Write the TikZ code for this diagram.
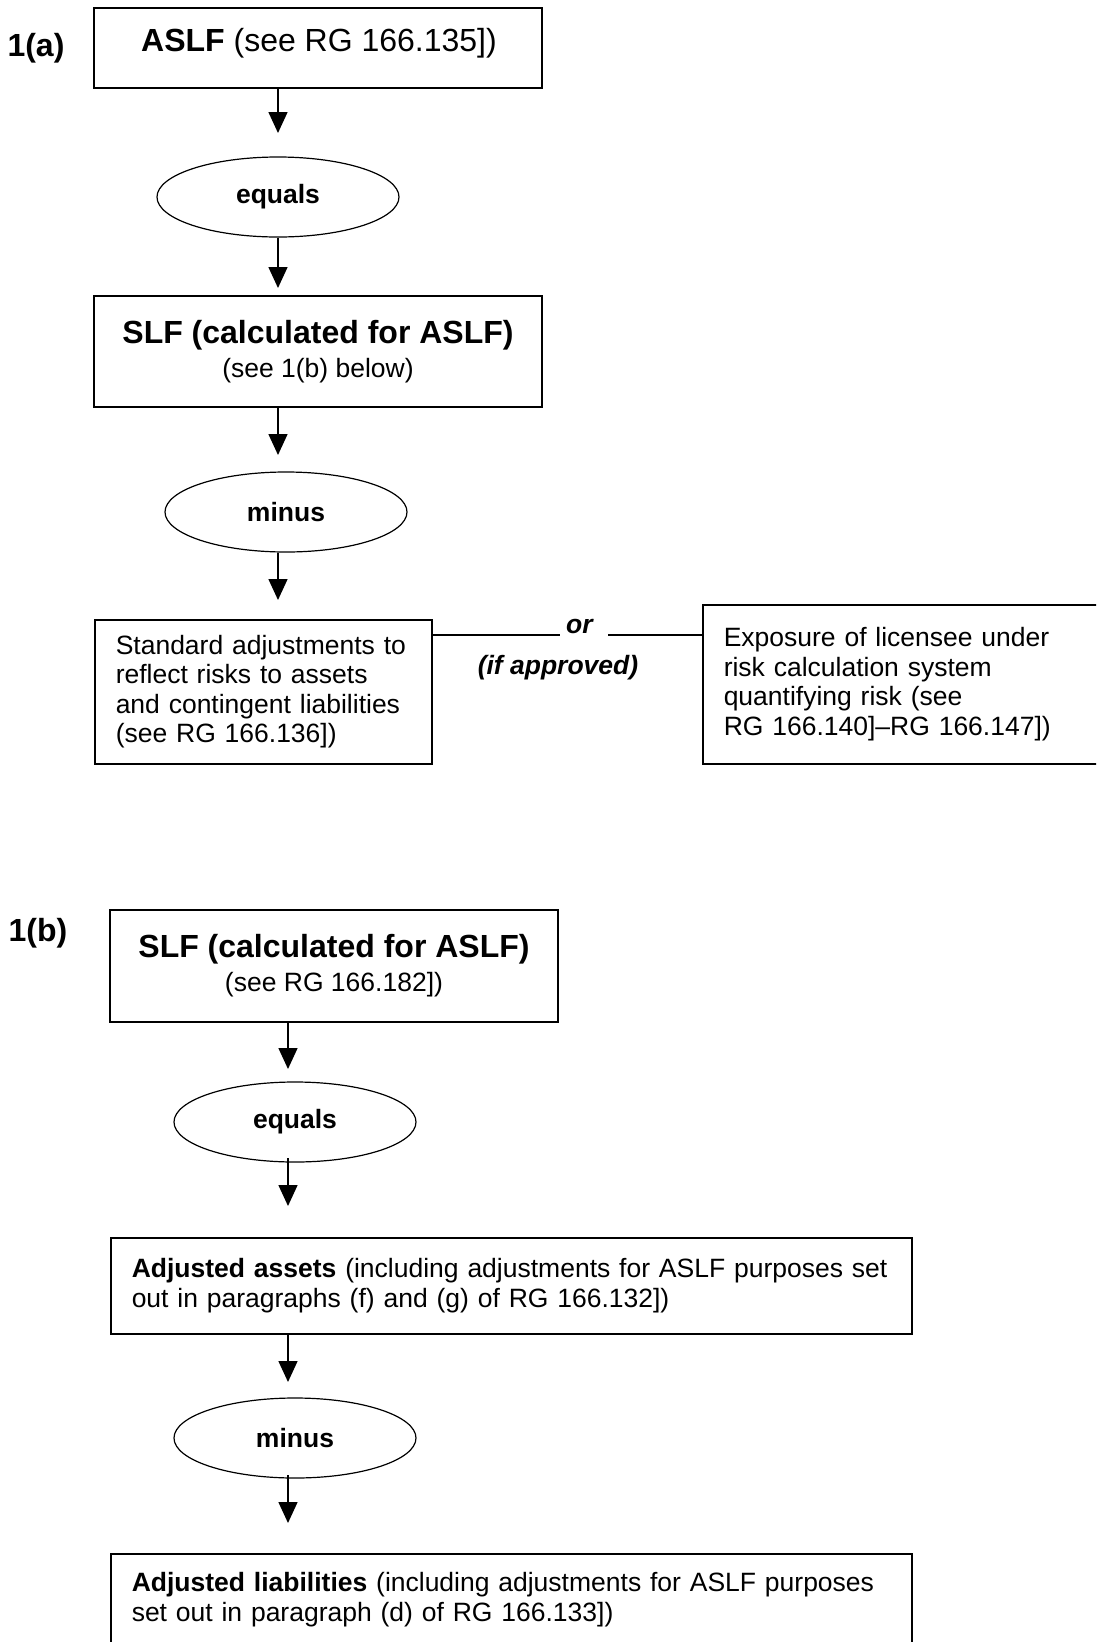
\documentclass[tikz,border=0pt]{standalone}
\usepackage{fontspec}
\setmainfont{Liberation Sans}
\usetikzlibrary{shapes.geometric,arrows.meta}
\tikzset{
  boxnode/.style={draw, line width=1.5pt, inner ysep=0pt},
  ovalnode/.style={draw, ellipse, line width=1.2pt, minimum width=242pt, minimum height=80pt, inner sep=0pt, font=\fontsize{26.5}{30}\selectfont\bfseries},
  arr/.style={line width=1.5pt, -{Triangle[width=19pt,length=21pt]}},
  bodyfont/.style={font=\fontsize{26.5}{29.5}\selectfont},
  headfont/.style={font=\fontsize{32}{36}\selectfont},
  lbl/.style={font=\fontsize{32}{36}\selectfont\bfseries, inner sep=0pt},
  plainline/.style={line width=1.5pt}
}
\begin{document}
\begin{tikzpicture}[x=1pt,y=-1pt]
\useasboundingbox (0,0) rectangle (1096,1642);
\clip (0,0) rectangle (1096,1642);

% ---------- 1(a) ----------
\node[lbl] (la) at (36,48) {1(a)};
\node[boxnode, minimum width=448pt, minimum height=80pt, inner sep=0pt] (aslf) at (318,48) {};
\node[headfont, anchor=base, inner sep=0pt] (aslft) at (319,51) {\textbf{ASLF} (see RG 166.135])};

\coordinate (t1) at (278,133);
\draw[arr] (t1 |- aslf.south) -- (t1);

\node[ovalnode] (eq1) at (278,197) {equals};
\coordinate (t2) at (278,288);
\draw[arr] (t2 |- eq1.south) -- (t2);

\node[boxnode, minimum width=448pt, minimum height=111pt, align=center, headfont] (slf1) at (318,351.5)
  {\textbf{SLF (calculated for ASLF)}\\[-2pt]{\fontsize{26.5}{30}\selectfont (see 1(b) below)}};

\coordinate (t3) at (278,455);
\draw[arr] (t3 |- slf1.south) -- (t3);

\node[ovalnode] (mi1) at (286,512) {minus};
\coordinate (t4) at (278,600);
\draw[arr] (t4 |- mi1.south) -- (t4);

\node[boxnode, bodyfont, text width=295pt, inner xsep=21pt, minimum height=144pt, align=left, anchor=north west] (std) at (94,619)
  {Standard adjustments to\\reflect risks to assets\\and contingent liabilities\\(see RG 166.136])};

\node[boxnode, bodyfont, text width=380pt, inner xsep=21pt, minimum height=159pt, align=left, anchor=north west] (expo) at (702,604)
  {Exposure of licensee under\\risk calculation system\\quantifying risk (see\\RG 166.140]--RG 166.147])};

\node[bodyfont, anchor=base, inner sep=0pt] (orl) at (580,633) {\textbf{\textit{or}}};
\node[bodyfont, anchor=base, inner sep=0pt] (ifap) at (558,674) {\textbf{\textit{(if approved)}}};
\coordinate (l1) at (560,635);
\coordinate (l2) at (608,635);
\draw[plainline] (std.east |- l1) -- (l1);
\draw[plainline] (l2) -- (l2 -| expo.west);

% ---------- 1(b) ----------
\node[lbl] (lb) at (38,933) {1(b)};
\node[boxnode, minimum width=448pt, minimum height=112pt, align=center, headfont] (slf2) at (334,966)
  {\textbf{SLF (calculated for ASLF)}\\[-2pt]{\fontsize{26.5}{30}\selectfont (see RG 166.182])}};

\coordinate (t5) at (288,1069);
\draw[arr] (t5 |- slf2.south) -- (t5);

\node[ovalnode] (eq2) at (295,1122) {equals};
\coordinate (s6) at (288,1158);
\coordinate (t6) at (288,1206);
\draw[arr] (s6) -- (t6);

\node[boxnode, bodyfont, text width=759pt, inner xsep=21pt, minimum height=96pt, align=left, anchor=north west] (adja) at (110,1237)
  {\textbf{Adjusted assets} (including adjustments for ASLF purposes set\\out in paragraphs (f) and (g) of RG 166.132])};

\coordinate (t7) at (288,1382);
\draw[arr] (t7 |- adja.south) -- (t7);

\node[ovalnode] (mi2) at (295,1438) {minus};
\coordinate (s8) at (288,1475);
\coordinate (t8) at (288,1523);
\draw[arr] (s8) -- (t8);

\node[boxnode, bodyfont, text width=759pt, inner xsep=21pt, minimum height=92pt, align=left, anchor=north west] (adjl) at (110,1553)
  {\textbf{Adjusted liabilities} (including adjustments for ASLF purposes\\set out in paragraph (d) of RG 166.133])};
\end{tikzpicture}
\end{document}
